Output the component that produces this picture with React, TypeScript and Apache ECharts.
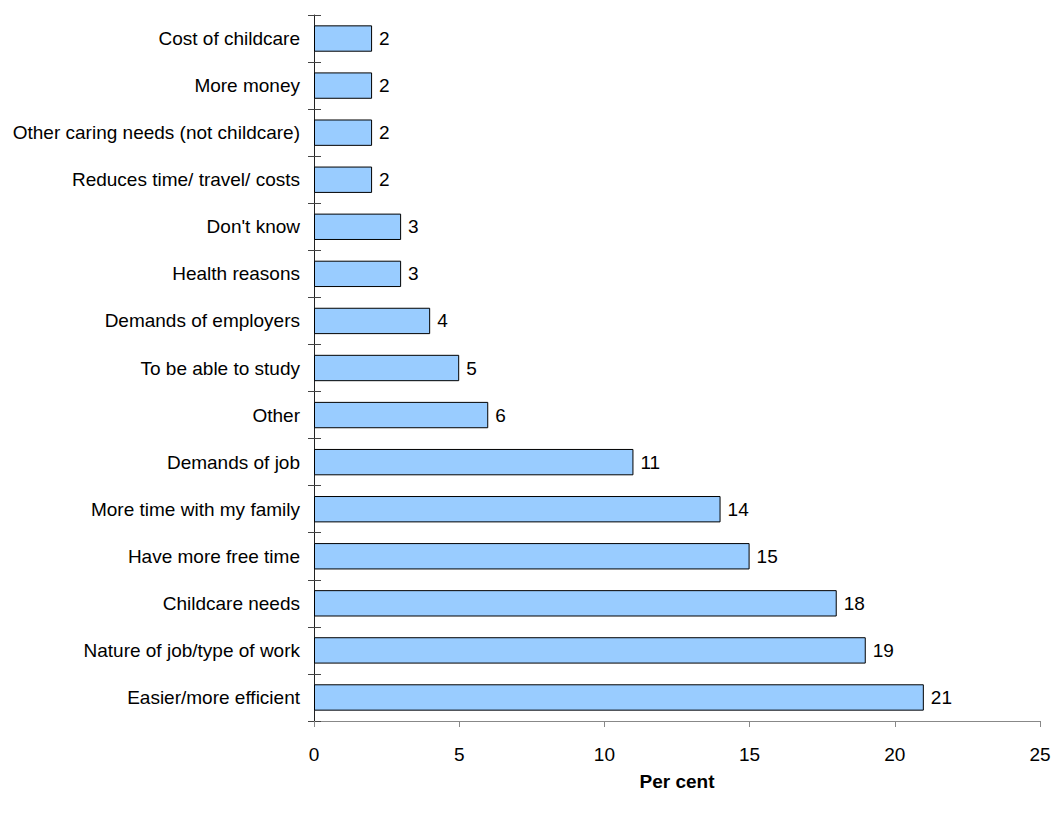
import React, { useEffect, useRef } from "react";
import * as echarts from "echarts";

const categories = [
  "Cost of childcare",
  "More money",
  "Other caring needs (not childcare)",
  "Reduces time/ travel/ costs",
  "Don't know",
  "Health reasons",
  "Demands of employers",
  "To be able to study",
  "Other",
  "Demands of job",
  "More time with my family",
  "Have more free time",
  "Childcare needs",
  "Nature of job/type of work",
  "Easier/more efficient",
];
const values = [2, 2, 2, 2, 3, 3, 4, 5, 6, 11, 14, 15, 18, 19, 21];
const xTicks = [0, 5, 10, 15, 20, 25];

const FONT = "'Liberation Sans', Arial, sans-serif";

export default function App() {
  const ref = useRef<HTMLDivElement>(null);
  useEffect(() => {
    if (!ref.current) return;
    const chart = echarts.init(ref.current, null, { renderer: "svg" });
    chart.setOption({
      animation: false,
      backgroundColor: "#ffffff",
      grid: { left: 314, right: 13, top: 15, bottom: 94, containLabel: false, outerBoundsMode: "none" },
      xAxis: {
        type: "value",
        min: xTicks[0],
        max: xTicks[xTicks.length - 1],
        interval: 5,
        name: "Per cent",
        nameLocation: "middle",
        nameGap: 51,
        nameTextStyle: { fontFamily: FONT, fontSize: 19, fontWeight: "bold", color: "#000", verticalAlign: "top" },
        axisLine: { show: true, lineStyle: { color: "#888888", width: 1 } },
        axisTick: { show: true, length: 6, lineStyle: { color: "#888888" } },
        axisLabel: { fontFamily: FONT, fontSize: 19, color: "#000", margin: 24 },
        splitLine: { show: false },
      },
      yAxis: [
        {
          type: "category",
          data: categories,
          inverse: true,
          axisLine: { show: true, lineStyle: { color: "#222222", width: 1 } },
          axisTick: { show: true, length: 6, alignWithLabel: false, lineStyle: { color: "#444444" } },
          axisLabel: { fontFamily: FONT, fontSize: 19, color: "#000", margin: 14 },
          splitLine: { show: false },
        },
        {
          type: "category",
          data: categories,
          inverse: true,
          position: "left",
          offset: 0,
          axisLine: { show: false },
          axisTick: { show: true, inside: true, length: 7, alignWithLabel: false, lineStyle: { color: "#444444" } },
          axisLabel: { show: false },
          splitLine: { show: false },
        },
      ],
      series: [
        {
          type: "bar",
          data: values,
          yAxisIndex: 0,
          barCategoryGap: "44%",
          itemStyle: { color: "#99ccff", borderColor: "#000000", borderWidth: 1 },
          label: {
            show: true,
            position: "right",
            distance: 7,
            fontFamily: FONT,
            fontSize: 19,
            color: "#000",
          },
        },
      ],
    });
    return () => chart.dispose();
  }, []);
  return (
    <div
      ref={ref}
      style={{ position: "fixed", left: 0, top: 0, width: 1053, height: 815 }}
    />
  );
}
